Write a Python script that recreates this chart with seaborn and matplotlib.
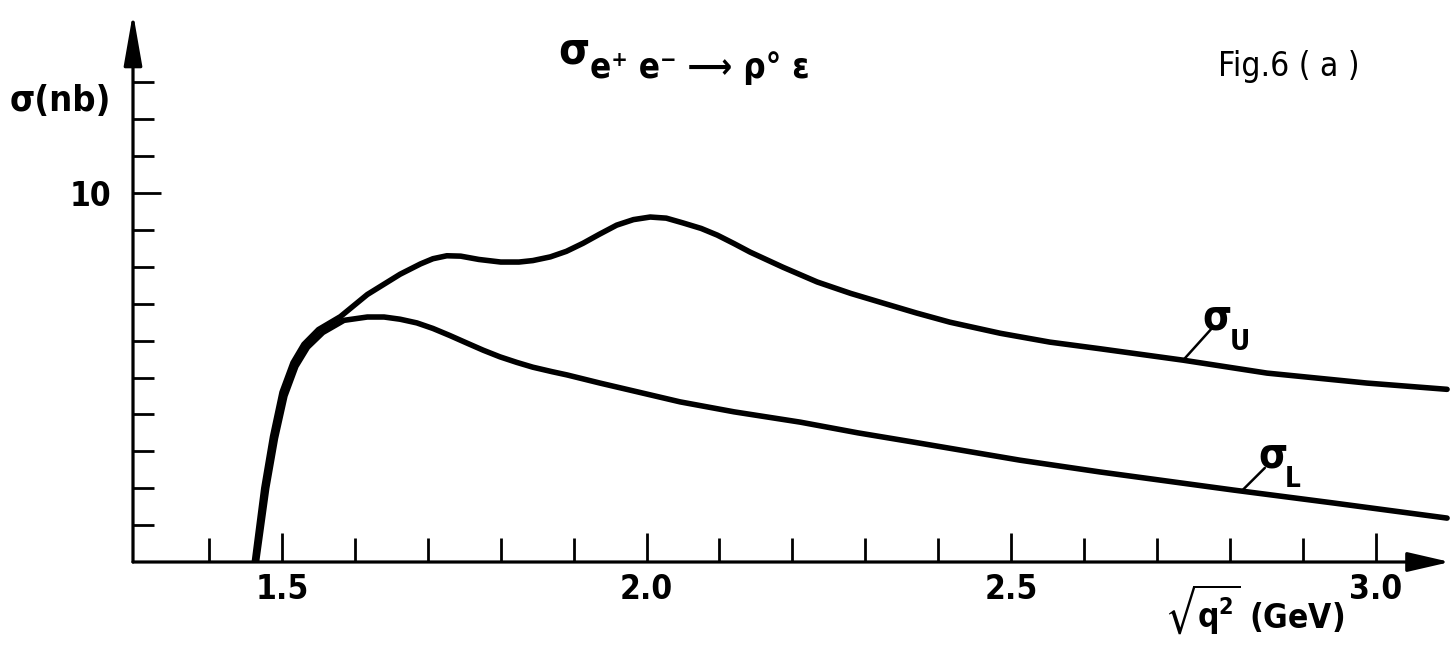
import matplotlib
matplotlib.use("Agg")
import matplotlib.pyplot as plt
import seaborn as sns
import pandas as pd

# ---- data ----
sqrt_q2_U = [1.462, 1.475, 1.487, 1.500, 1.515, 1.530, 1.550, 1.580, 1.617, 1.662,
             1.690, 1.707, 1.726, 1.745, 1.770, 1.800, 1.825, 1.844, 1.868, 1.890,
             1.913, 1.935, 1.959, 1.982, 2.005, 2.027, 2.050, 2.075, 2.097, 2.120,
             2.142, 2.187, 2.234, 2.280, 2.324, 2.370, 2.416, 2.485, 2.553, 2.622,
             2.736, 2.851, 2.988, 3.098]
sigma_U = [0.0, 2.0, 3.4, 4.6, 5.4, 5.9, 6.3, 6.65, 7.25, 7.8,
           8.08, 8.22, 8.30, 8.29, 8.20, 8.13, 8.13, 8.17, 8.27, 8.42,
           8.64, 8.88, 9.13, 9.28, 9.35, 9.32, 9.19, 9.04, 8.86, 8.63,
           8.40, 7.99, 7.59, 7.28, 7.02, 6.75, 6.50, 6.20, 5.96, 5.78,
           5.47, 5.12, 4.85, 4.68]

sqrt_q2_L = [1.465, 1.479, 1.491, 1.504, 1.519, 1.535, 1.556, 1.585, 1.617, 1.640,
             1.662, 1.685, 1.707, 1.730, 1.754, 1.776, 1.799, 1.822, 1.844, 1.870,
             1.891, 1.936, 1.990, 2.046, 2.120, 2.211, 2.290, 2.366, 2.512, 2.622,
             2.805, 2.942, 3.098]
sigma_L = [0.0, 2.0, 3.35, 4.5, 5.3, 5.82, 6.22, 6.55, 6.64, 6.64,
           6.58, 6.48, 6.33, 6.14, 5.93, 5.74, 5.56, 5.41, 5.28, 5.16,
           5.07, 4.85, 4.60, 4.34, 4.07, 3.79, 3.50, 3.25, 2.76, 2.44,
           1.95, 1.60, 1.19]

x_major_ticks = [1.5, 2.0, 2.5, 3.0]
x_major_labels = ["1.5", "2.0", "2.5", "3.0"]
x_minor_ticks = [1.4, 1.6, 1.7, 1.8, 1.9, 2.1, 2.2, 2.3, 2.4, 2.6, 2.7, 2.8, 2.9]
y_major_ticks = [10]
y_major_labels = ["10"]
y_minor_ticks = [1, 2, 3, 4, 5, 6, 7, 8, 9, 11, 12, 13]

W, H = 1452, 645

sns.set_theme(style="white")
plt.rcParams["font.family"] = ["DejaVu Sans"]
plt.rcParams["font.stretch"] = "condensed"
plt.rcParams["font.weight"] = "bold"
plt.rcParams["mathtext.fontset"] = "dejavusans"
plt.rcParams["mathtext.default"] = "regular"
plt.rcParams["text.color"] = "black"
plt.rcParams["xtick.color"] = "black"
plt.rcParams["ytick.color"] = "black"
plt.rcParams["xtick.labelcolor"] = "black"
plt.rcParams["ytick.labelcolor"] = "black"

fig = plt.figure(figsize=(W / 100, H / 100), dpi=100)
ax = fig.add_axes([133 / W, 83 / H, 1317 / W, 549 / H])
ax.set_xlim(1.2956, 3.102)
ax.set_ylim(0, 14.88)

dfU = pd.DataFrame({"x": sqrt_q2_U, "y": sigma_U})
dfL = pd.DataFrame({"x": sqrt_q2_L, "y": sigma_L})
for d in (dfU, dfL):
    sns.lineplot(data=d, x="x", y="y", sort=False, color="black", lw=4.0, ax=ax,
                 legend=False, solid_capstyle="round", solid_joinstyle="round")

for s in ax.spines.values():
    s.set_visible(False)
ax.grid(False)
ax.set_xlabel("")
ax.set_ylabel("")

# axes with arrows
ax.annotate("", xy=(1.0, 0.0), xytext=(0.0, 0.0), xycoords="axes fraction",
            textcoords="axes fraction",
            arrowprops=dict(arrowstyle="-|>,head_length=1.3,head_width=0.3",
                            lw=2.3, color="black", mutation_scale=20,
                            shrinkA=0, shrinkB=0))
ax.annotate("", xy=(0.0, 1.0), xytext=(0.0, 0.0), xycoords="axes fraction",
            textcoords="axes fraction",
            arrowprops=dict(arrowstyle="-|>,head_length=1.6,head_width=0.28",
                            lw=2.3, color="black", mutation_scale=20,
                            shrinkA=0, shrinkB=0))

ax.set_xticks(x_major_ticks)
ax.set_xticklabels(x_major_labels)
ax.set_xticks(x_minor_ticks, minor=True)
ax.set_yticks(y_major_ticks)
ax.set_yticklabels(y_major_labels)
ax.set_yticks(y_minor_ticks, minor=True)

ax.tick_params(axis="x", which="major", direction="in", length=21, width=2.0,
               pad=8, labelsize=24, bottom=True, colors="black")
ax.tick_params(axis="x", which="minor", direction="in", length=17, width=2.0,
               bottom=True, colors="black")
ax.tick_params(axis="y", which="major", direction="in", length=20, width=2.0,
               pad=16, labelsize=24, left=True, colors="black")
ax.tick_params(axis="y", which="minor", direction="in", length=15, width=2.0,
               left=True, colors="black")
for lab in ax.get_xticklabels() + ax.get_yticklabels():
    lab.set_fontweight("bold")

# texts
fig.text(10 / W, 1 - 111 / H, "σ(nb)", fontsize=26, va="baseline", ha="left")
fig.text(558 / W, 1 - 63 / H, "σ", fontsize=32, va="baseline", ha="left")
fig.text(590 / W, 1 - 78 / H, "e⁺ e⁻ ⟶ ρ° ε", fontsize=25, va="baseline",
         ha="left")
fig.text(1218 / W, 1 - 76 / H, "Fig.6 ( a )", fontsize=24, va="baseline",
         ha="left", fontweight="normal")
fig.text(1165 / W, 1 - 628 / H, r"$\sqrt{q^2}$ (GeV)", fontsize=24,
         va="baseline", ha="left")

# curve labels with leader lines
ax.annotate("", xy=(2.736, 5.47), xytext=(2.777, 6.37),
            arrowprops=dict(arrowstyle="-", lw=1.8, color="black",
                            shrinkA=0, shrinkB=0))
ax.text(2.763, 6.31, "σ", fontsize=30, va="baseline", ha="left")
ax.text(2.800, 5.75, "U", fontsize=20, va="baseline", ha="left")
ax.annotate("", xy=(2.816, 1.92), xytext=(2.848, 2.55),
            arrowprops=dict(arrowstyle="-", lw=1.8, color="black",
                            shrinkA=0, shrinkB=0))
ax.text(2.839, 2.57, "σ", fontsize=30, va="baseline", ha="left")
ax.text(2.876, 2.02, "L", fontsize=20, va="baseline", ha="left")

fig.savefig("out.png", dpi=100, facecolor="white")
